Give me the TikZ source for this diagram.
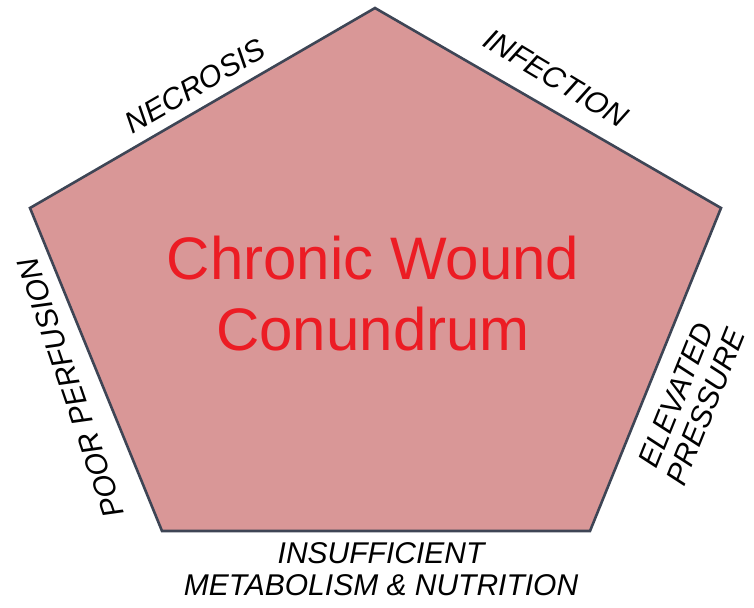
\documentclass[tikz,border=0pt]{standalone}
\usepackage{fontspec}
\setmainfont{Liberation Sans}
\usetikzlibrary{positioning}
\definecolor{woundfill}{HTML}{D99797}
\definecolor{edge}{HTML}{3E4555}
\definecolor{woundred}{HTML}{EC1C24}

\begin{document}
\begin{tikzpicture}[x=1pt,y=-1pt,
          every node/.style={inner sep=0pt},
          side/.style={font=\fontsize{30}{32}\selectfont\itshape,align=center,text=black},
          title/.style={font=\fontsize{60}{71}\selectfont,align=center,text=woundred}]
        \useasboundingbox (0,0) rectangle (754,607);
        \coordinate (top) at (375,8);
        \coordinate (rt) at (721,208);
        \coordinate (br) at (590,531);
        \coordinate (bl) at (162,531);
        \coordinate (lt) at (30,208);
        \draw[draw=edge,fill=woundfill,line width=2.6pt,line join=miter]
          (top)--(rt)--(br)--(bl)--(lt)--cycle;

        \node[title] (core) at (373,294) {Chronic Wound\\Conundrum};

        \node[side,rotate=30] (necrosis) at (195,86) {NECROSIS};
        \node[side,rotate=-31] (infection) at (556,78) {INFECTION};
        \node[side,rotate=109] (perfusion) at (71,388) {POOR PERFUSION};
        \node[side,rotate=68] (pressure) at (691,401) {ELEVATED\\PRESSURE};
        \node[side] (nutrition) at (381,569) {INSUFFICIENT\\METABOLISM \& NUTRITION};
      \end{tikzpicture}
\end{document}
